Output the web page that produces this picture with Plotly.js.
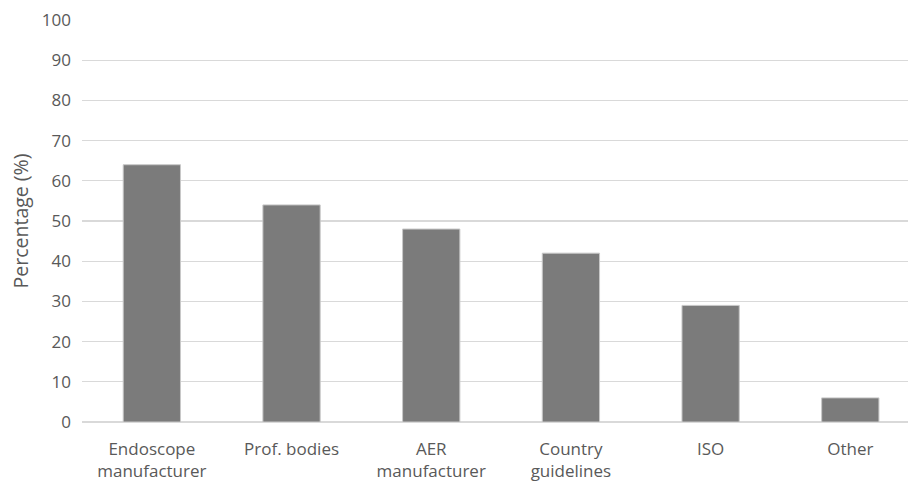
<!DOCTYPE html>
<html>
<head>
<meta charset="utf-8">
<script src="https://cdn.plot.ly/plotly-3.0.1.min.js"></script>
<style>
  html, body { margin: 0; padding: 0; background: #ffffff; }
  #chart { width: 910px; height: 484px; }
</style>
</head>
<body>
<div id="chart"></div>
<script>
// Sources consulted, share of respondents (%)
const categories = [
  "Endoscope<br>manufacturer",
  "Prof. bodies",
  "AER<br>manufacturer",
  "Country<br>guidelines",
  "ISO",
  "Other"
];
const percentages = [64, 54, 48, 42, 29, 6];
const yTicks = [0, 10, 20, 30, 40, 50, 60, 70, 80, 90, 100];

const textColor = "#595959";
const fontFamily = "'Open Sans', Lato, 'Liberation Sans', sans-serif";

const trace = {
  type: "bar",
  x: categories,
  y: percentages,
  width: 0.41,
  marker: {
    color: "#7b7b7b",
    line: { color: "#c8c8c8", width: 1 }
  },
  hoverinfo: "x+y"
};

const layout = {
  width: 910,
  height: 484,
  margin: { l: 82, r: 2, t: 20, b: 62 },
  paper_bgcolor: "#ffffff",
  plot_bgcolor: "#ffffff",
  showlegend: false,
  font: { family: fontFamily, size: 17, color: textColor },
  xaxis: {
    type: "category",
    range: [-0.5, 5.413],
    showgrid: false,
    zeroline: false,
    showline: false,
    ticks: "",
    ticklabelstandoff: 15,
    tickfont: { family: fontFamily, size: 17, color: textColor },
    fixedrange: true
  },
  yaxis: {
    range: [0, 100],
    tickvals: yTicks,
    ticktext: yTicks.map(String),
    showgrid: true,
    gridcolor: "#d9d9d9",
    gridwidth: 1.3,
    zeroline: true,
    zerolinecolor: "#d9d9d9",
    zerolinewidth: 1.3,
    showline: false,
    ticks: "",
    ticklabelstandoff: 10,
    tickfont: { family: fontFamily, size: 17, color: textColor },
    title: {
      text: "Percentage (%)",
      font: { family: fontFamily, size: 19.5, color: textColor },
      standoff: 8
    },
    fixedrange: true
  }
};

Plotly.newPlot("chart", [trace], layout, { displayModeBar: false, staticPlot: true });
</script>
</body>
</html>
